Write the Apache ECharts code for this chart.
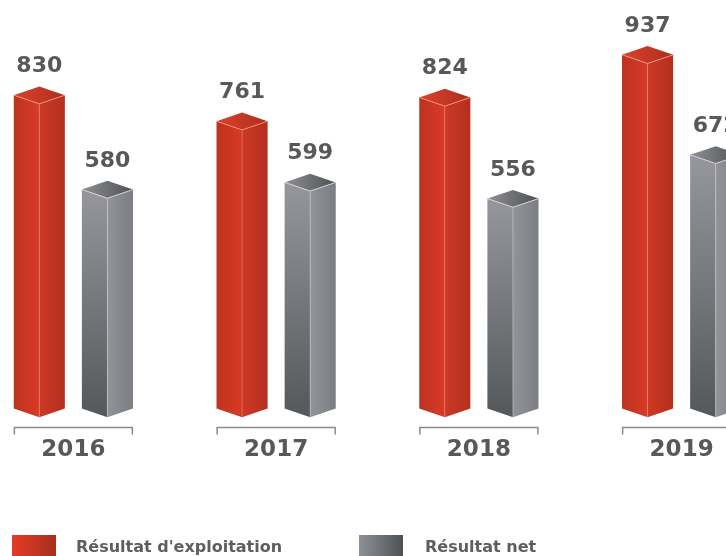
<!DOCTYPE html>
<html>
<head>
<meta charset="utf-8">
<title>Résultats</title>
<script src="https://cdn.jsdelivr.net/npm/echarts@6/dist/echarts.min.js"></script>
<style>
  html, body { margin: 0; padding: 0; background: #fff; }
  #chart { width: 726px; height: 556px; }
</style>
</head>
<body>
<div id="chart"></div>
<script>
// données
const years = ['2016', '2017', '2018', '2019']
const resultatExploitation = [830, 761, 824, 937]
const resultatNet = [580, 599, 556, 672]
const seriesNames = ["Résultat d'exploitation", 'Résultat net']

const chart = echarts.init(document.getElementById('chart'))
const G = echarts.graphic

const toPoints = (vals) => vals.map((v, i) => [i, v])

// styles des faces pour chaque série
const redStyle = {
  left: new G.LinearGradient(0, 0, 1, 0, [
    { offset: 0, color: '#bd321f' }, { offset: 1, color: '#d83b27' }
  ]),
  right: new G.LinearGradient(0, 0, 1, 0, [
    { offset: 0, color: '#cb3a25' }, { offset: 1, color: '#b52f1e' }
  ]),
  top: new G.LinearGradient(0, 0, 1, 0, [
    { offset: 0, color: '#d9422c' }, { offset: 1, color: '#b02d1d' }
  ]),
  edge: 'rgba(242,150,128,0.85)'
}
const grayStyle = {
  left: new G.LinearGradient(0, 0, 0.25, 1, [
    { offset: 0, color: '#95979c' }, { offset: 1, color: '#55585b' }
  ]),
  right: new G.LinearGradient(0, 0, 1, 0, [
    { offset: 0, color: '#929499' }, { offset: 1, color: '#7a7d81' }
  ]),
  top: new G.LinearGradient(0, 0, 1, 0, [
    { offset: 0, color: '#8e9094' }, { offset: 1, color: '#4e5154' }
  ]),
  edge: 'rgba(226,212,224,0.9)'
}

// prisme pseudo 3D
const makeRender = (shift, st) => (params, api) => {
  const cat = api.value(0)
  const v = api.value(1)
  const top = api.coord([cat, v])
  const base = api.coord([cat, 0])
  const band = api.size([1, 0])[0]
  const w = band * 0.252
  const d = w * 0.17
  const cx = top[0] + shift * band
  const xl = cx - w / 2
  const xr = cx + w / 2
  const yt = top[1]
  const yb = base[1]
  return {
    type: 'group',
    children: [
      { type: 'polygon', shape: { points: [[xl, yt], [cx, yt + d], [cx, yb + d], [xl, yb]] }, style: { fill: st.left } },
      { type: 'polygon', shape: { points: [[cx, yt + d], [xr, yt], [xr, yb], [cx, yb + d]] }, style: { fill: st.right } },
      { type: 'polygon', shape: { points: [[xl, yt], [cx, yt - d], [xr, yt], [cx, yt + d]] }, style: { fill: st.top } },
      { type: 'polyline', shape: { points: [[xl, yt], [cx, yt + d], [xr, yt]] }, style: { stroke: st.edge, lineWidth: 1, fill: null } },
      { type: 'line', shape: { x1: cx, y1: yt + d, x2: cx, y2: yb + d }, style: { stroke: st.edge, lineWidth: 0.8, opacity: 0.6 } },
      {
        type: 'text',
        x: cx, y: yt - d - 9,
        style: {
          text: String(v), fill: '#58585a', align: 'center', verticalAlign: 'bottom',
          font: 'bold 22px "DejaVu Sans"'
        }
      }
    ]
  }
}

// crochets sous chaque année
const renderBracket = (params, api) => {
  const cat = api.value(0)
  const c = api.coord([cat, 0])
  const band = api.size([1, 0])[0]
  const half = band * 0.291
  const y = c[1] + 19
  return {
    type: 'polyline',
    shape: { points: [[c[0] - half, y + 7], [c[0] - half, y], [c[0] + half, y], [c[0] + half, y + 7]] },
    style: { stroke: '#8a8a8a', lineWidth: 1.5, fill: null }
  }
}

const legendText = (pad) => ({
  color: '#5e5e5e', fontSize: 16, fontWeight: 'bold', fontFamily: 'DejaVu Sans',
  padding: [0, 0, 0, pad]
})

chart.setOption({
  animation: false,
  grid: { left: -28, right: -57, top: 31, bottom: 147.5, outerBoundsMode: 'none', containLabel: false },
  xAxis: {
    type: 'category',
    data: years,
    axisLine: { show: false },
    axisTick: { show: false },
    axisLabel: { margin: 30, color: '#58585a', fontSize: 23, fontWeight: 'bold', fontFamily: 'DejaVu Sans' }
  },
  yAxis: { type: 'value', min: 0, max: 1000, show: false },
  legend: [
    {
      left: 12, top: 535, padding: 0, itemWidth: 44, itemHeight: 26,
      icon: 'rect', textStyle: legendText(15),
      data: [{ name: seriesNames[0], itemStyle: { color: new G.LinearGradient(0, 0, 1, 0, [
        { offset: 0, color: '#e63b26' }, { offset: 1, color: '#a62f1e' }]) } }]
    },
    {
      left: 359, top: 535, padding: 0, itemWidth: 44, itemHeight: 26,
      icon: 'rect', textStyle: legendText(17),
      data: [{ name: seriesNames[1], itemStyle: { color: new G.LinearGradient(0, 0, 1, 0, [
        { offset: 0, color: '#8e9195' }, { offset: 1, color: '#4d5154' }]) } }]
    }
  ],
  series: [
    {
      name: seriesNames[0], type: 'custom', renderItem: makeRender(-0.168, redStyle),
      data: toPoints(resultatExploitation), itemStyle: { color: '#c9361f' }
    },
    {
      name: seriesNames[1], type: 'custom', renderItem: makeRender(0.168, grayStyle),
      data: toPoints(resultatNet), itemStyle: { color: '#6f7276' }
    },
    {
      name: 'axe', type: 'custom', renderItem: renderBracket,
      data: years.map((y, i) => [i]), silent: true
    }
  ]
})
</script>
</body>
</html>
